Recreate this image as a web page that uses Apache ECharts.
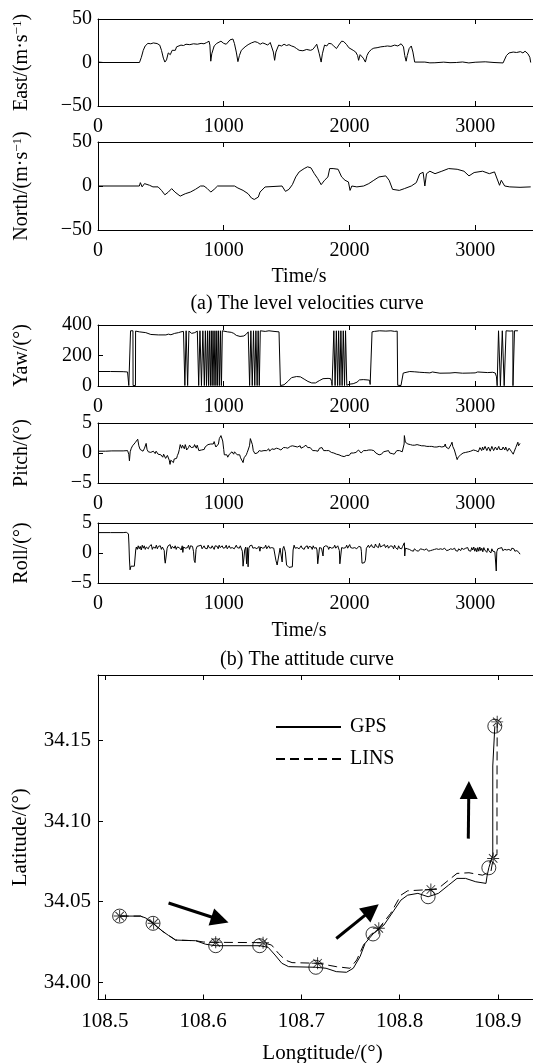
<!DOCTYPE html>
<html>
<head>
<meta charset="utf-8">
<script src="https://cdn.jsdelivr.net/npm/echarts@6.0.0/dist/echarts.min.js"></script>
<style>html,body{margin:0;padding:0;background:#fff}#c{width:533px;height:1063px}</style>
</head>
<body>
<div id="c"></div>
<script>
// ---------- data ----------
const timeTicks = [0, 1000, 2000, 3000];
const velTicks = [-50, 0, 50];
const yawTicks = [0, 200, 400];
const angTicks = [-5, 0, 5];
const lonTicks = [108.5, 108.6, 108.7, 108.8, 108.9];
const latTicks = [34.00, 34.05, 34.10, 34.15];

const eastData = [[0,0.5],[20,0.3],[40,0],[330,0],[345,6],[360,14],[375,19],[397,22],[420,21.5],[440,22.5],[470,21.8],[491,20],[505,14],[520,5],[532,0.5],[545,3],[559,11],[575,9],[590,14],[600,16],[615,14],[625,18],[640,17],[660,20],[680,19.5],[700,21],[730,20.5],[760,21.5],[790,21],[820,22],[843,21.5],[865,23],[883,24.5],[890,20],[897,1.5],[905,10],[924,19],[945,22],[960,24],[978,24.5],[1000,22],[1020,21],[1032,22.5],[1050,26],[1073,27],[1085,22],[1100,12],[1113,1],[1125,8],[1140,14],[1154,16],[1170,18],[1194,20.5],[1220,22.5],[1248,24],[1270,23],[1290,21],[1310,22.5],[1329,21.5],[1350,20],[1370,23],[1383,21],[1395,12],[1405,2.5],[1415,12],[1437,20],[1460,19],[1480,21],[1500,19.5],[1519,20.5],[1540,19],[1560,18],[1580,16],[1600,14],[1630,13.5],[1660,15],[1690,14],[1708,15],[1725,18],[1740,21],[1748,20],[1760,10],[1775,0.5],[1785,10],[1802,20],[1820,19],[1835,22],[1856,21.5],[1875,19],[1897,16],[1915,20],[1938,24.5],[1955,24],[1978,20.5],[1995,17],[2010,16],[2030,14],[2050,12],[2065,8],[2073,2.5],[2085,9],[2100,10.5],[2110,5],[2127,0.5],[2140,8],[2154,12],[2175,15],[2194,16.5],[2220,17],[2250,18],[2280,18.5],[2302,19],[2330,18.5],[2360,20],[2385,19],[2411,21.5],[2430,18],[2440,8],[2451,1.5],[2460,8],[2475,16],[2492,19],[2505,12],[2519,0.5],[2532,0],[2600,0.5],[2640,-0.4],[2680,-0.3],[2750,0.4],[2800,-0.2],[2850,0],[2900,0.6],[2950,-0.5],[3000,0.3],[3080,0.8],[3150,0],[3222,-0.5],[3235,1],[3249,8],[3270,11],[3303,12],[3330,11.5],[3360,12.5],[3380,11],[3397,13],[3420,10],[3435,6],[3442,0]];

const northData = [[0,0],[329,0],[337,3.8],[351,-1],[370,2.7],[410,0.8],[437,-1],[478,-1],[505,-5],[532,-10],[559,-7],[586,-3],[613,-7],[654,-11.5],[694,-8.8],[735,-6.9],[775,-3.8],[816,0],[843,0],[870,-3],[897,-6.9],[924,-3.8],[951,0],[1086,0],[1113,-2.3],[1154,-5],[1194,-8.8],[1221,-13.7],[1243,-15.3],[1275,-12.6],[1289,-6.9],[1302,-6.1],[1329,-1.1],[1343,0],[1464,0],[1491,-6.1],[1519,-3.8],[1546,1.5],[1573,10.3],[1600,16],[1640,19.8],[1667,21.8],[1694,20.6],[1721,14],[1748,8.4],[1775,1.5],[1802,6.5],[1829,10.3],[1843,19.8],[1870,19.8],[1910,19],[1938,10.3],[1965,6.5],[1992,4.6],[2005,-5],[2019,0],[2059,-1],[2113,0],[2154,2.7],[2194,6.5],[2235,10.3],[2289,11.5],[2316,6.5],[2343,-3.8],[2397,-5],[2437,-3],[2492,0],[2532,3.8],[2559,13.7],[2586,15.6],[2600,0],[2613,14],[2640,16.8],[2681,14],[2735,16.8],[2789,19.8],[2857,19],[2911,16.8],[2951,11.5],[2992,15.3],[3059,16.8],[3113,14],[3154,16],[3194,0.8],[3208,6.5],[3235,0],[3275,-1],[3357,-1.5],[3442,-1]];

const yawData = [[0,95],[100,95],[200,94],[235,92],[243,88],[245,3],[258,3],[259,362],[278,362],[279,3],[298,3],[299,360],[330,355],[380,350],[420,338],[480,335],[540,335],[560,340],[580,336],[610,345],[640,350],[660,355],[680,358],[690,362],[691,3],[700,3],[701,362],[712,362],[713,3],[722,3],[723,360],[745,345],[770,350],[790,360],[800,362],[801,3],[810,3],[811,362],[822,362],[823,3],[833,3],[834,362],[845,362],[846,3],[853,3],[854,362],[862,362],[863,3],[870,3],[871,362],[878,362],[879,3],[885,3],[886,362],[893,362],[894,3],[900,3],[901,362],[907,362],[908,3],[914,3],[915,362],[922,362],[923,3],[929,3],[930,362],[937,362],[938,3],[944,3],[945,362],[951,362],[952,3],[958,3],[959,362],[966,362],[967,3],[973,3],[974,362],[981,362],[982,3],[988,3],[989,362],[1000,358],[1030,355],[1060,352],[1080,345],[1100,332],[1130,325],[1160,328],[1180,340],[1195,355],[1205,362],[1206,3],[1215,3],[1216,362],[1226,362],[1227,3],[1236,3],[1237,362],[1246,362],[1247,3],[1255,3],[1256,362],[1265,362],[1266,3],[1273,3],[1274,362],[1282,362],[1283,3],[1290,3],[1291,362],[1300,360],[1330,358],[1360,362],[1400,358],[1440,355],[1450,360],[1451,3],[1480,8],[1510,30],[1540,55],[1580,62],[1610,60],[1640,45],[1670,30],[1700,20],[1730,20],[1760,35],[1790,48],[1830,50],[1850,48],[1858,30],[1862,3],[1875,3],[1876,362],[1885,362],[1886,3],[1895,3],[1896,362],[1905,362],[1906,3],[1913,3],[1914,362],[1923,362],[1924,3],[1931,3],[1932,362],[1941,362],[1942,3],[1950,3],[1951,362],[1960,362],[1961,3],[1968,3],[1969,362],[1978,362],[1979,5],[2000,12],[2030,15],[2060,25],[2080,40],[2110,42],[2140,40],[2160,38],[2165,10],[2175,5],[2180,355],[2200,358],[2240,362],[2290,360],[2330,362],[2360,358],[2380,360],[2384,5],[2410,3],[2420,15],[2428,85],[2440,92],[2480,95],[2520,93],[2560,90],[2600,88],[2640,86],[2660,92],[2670,86],[2720,84],[2800,85],[2840,88],[2850,83],[2900,84],[2960,85],[3000,86],[3020,92],[3030,86],[3100,88],[3140,90],[3160,85],[3170,60],[3175,2],[3185,2],[3186,362],[3200,362],[3201,2],[3215,2],[3216,362],[3230,362],[3231,2],[3245,2],[3246,362],[3280,360],[3300,362],[3301,2],[3312,2],[3313,362],[3340,362]];

const pitchData = [[0,0.3],[60,0.3],[110,0.35],[115,0.6],[120,0.3],[200,0.35],[235,0.4],[245,-0.2],[250,-1.3],[256,0.2],[265,0.8],[275,1.2],[285,0.9],[295,1.7],[305,1.5],[316,2.3],[325,1.2],[335,0.6],[345,0.9],[358,0.3],[370,0.8],[383,1.6],[390,0.6],[400,0.2],[410,0.5],[420,0.1],[430,0.4],[440,0.3],[448,0.0],[455,-0.1],[462,0.3],[470,0.2],[478,-0.2],[485,-0.4],[492,0.0],[500,-0.3],[508,-0.6],[515,-0.7],[522,-0.2],[530,-0.4],[538,-0.9],[545,-1.0],[552,-0.4],[560,-0.6],[567,-1.2],[573,-1.9],[579,-1.2],[585,-1.0],[592,-1.4],[600,-1.6],[606,-1.0],[612,-0.8],[618,-1.2],[625,-0.9],[632,-0.4],[640,0],[647,0.6],[654,1.4],[660,1.1],[665,0.8],[672,1.3],[680,1.0],[687,0.7],[694,1.4],[700,1.0],[705,0.5],[712,0.7],[720,0.9],[728,1.3],[735,1.4],[742,0.9],[748,0.6],[755,1.1],[762,1.0],[768,1.4],[775,1.1],[782,0.8],[789,1.3],[795,0.9],[802,0.4],[809,0.6],[816,0.1],[823,0.5],[830,0.7],[838,0.3],[845,0.6],[852,1.0],[860,1.2],[867,0.9],[875,1.4],[885,1.2],[897,1.5],[904,1.3],[910,1.8],[917,1.5],[924,1.9],[931,1.4],[938,1.0],[945,1.3],[951,0.9],[958,1.5],[965,2.4],[972,2.2],[978,2.9],[985,2.6],[992,2.0],[1000,0.6],[1005,-0.3],[1012,-0.1],[1018,-0.5],[1025,-0.3],[1032,-0.7],[1038,-0.4],[1045,-0.2],[1052,-0.5],[1059,-0.1],[1066,0.2],[1072,0.1],[1079,-0.2],[1086,0.2],[1093,-0.1],[1100,0.0],[1107,-0.3],[1113,-0.4],[1120,-0.1],[1127,-0.3],[1134,-0.8],[1140,-1.0],[1147,-0.6],[1154,-1.6],[1162,-0.8],[1170,-0.5],[1180,-0.3],[1187,0.1],[1194,0.5],[1200,0.3],[1205,1.2],[1212,2.4],[1221,2.6],[1228,1.4],[1235,0.4],[1242,0.1],[1248,-0.1],[1255,0.2],[1262,-0.2],[1268,0.0],[1275,0.1],[1282,0.4],[1290,0.2],[1298,0.3],[1305,0.1],[1312,0.5],[1320,0.4],[1328,0.6],[1335,0.2],[1342,0.4],[1350,0.5],[1358,0.7],[1365,0.3],[1374,0.6],[1383,0.7],[1392,0.5],[1400,0.6],[1410,0.9],[1420,0.8],[1428,0.6],[1437,0.7],[1446,0.9],[1455,0.5],[1465,0.7],[1475,0.9],[1483,0.6],[1491,0.9],[1500,1.0],[1510,0.8],[1520,0.9],[1530,1.1],[1538,0.9],[1546,1.2],[1553,1.0],[1560,1.3],[1567,1.1],[1573,1.4],[1580,1.2],[1586,1.0],[1593,1.3],[1600,1.1],[1608,1.2],[1615,0.8],[1621,1.0],[1627,0.8],[1634,1.0],[1640,1.2],[1647,1.0],[1654,1.3],[1661,1.1],[1668,0.9],[1675,1.1],[1681,0.8],[1688,0.9],[1695,0.6],[1701,0.7],[1708,0.4],[1715,0.5],[1722,0.2],[1728,0.4],[1735,0.1],[1742,0.2],[1750,0.3],[1756,0.6],[1762,0.8],[1768,0.5],[1775,0.7],[1782,0.9],[1789,0.6],[1795,0.4],[1802,0.5],[1809,0.7],[1816,0.4],[1823,0.3],[1830,0.6],[1836,0.4],[1843,0.3],[1850,0.5],[1856,0.1],[1863,0.3],[1870,0.2],[1876,0.0],[1883,-0.1],[1890,0.1],[1897,-0.2],[1903,-0.1],[1910,-0.4],[1917,-0.3],[1924,-0.6],[1931,-0.4],[1938,-0.5],[1945,-0.7],[1951,-0.8],[1958,-0.6],[1965,-0.5],[1972,-0.7],[1978,-0.4],[1985,-0.5],[1992,-0.2],[1998,-0.4],[2005,-0.1],[2012,0.0],[2020,0.1],[2026,-0.1],[2032,0.0],[2039,0.2],[2045,0.3],[2052,0.1],[2060,0.2],[2066,0.4],[2072,0.5],[2079,0.2],[2086,0.3],[2093,0.0],[2100,0.1],[2107,0.3],[2113,0.4],[2120,0.1],[2127,0.2],[2134,0.4],[2140,0.1],[2147,0.3],[2154,0.5],[2160,0.2],[2167,0.3],[2174,0.5],[2180,0.6],[2187,0.3],[2194,0.4],[2202,0.2],[2210,0.0],[2218,0.2],[2225,-0.1],[2236,-0.3],[2248,-0.5],[2255,-0.2],[2262,-0.1],[2271,0.2],[2280,0.1],[2291,0.3],[2302,0.2],[2311,0.4],[2320,0.0],[2330,0.2],[2340,-0.1],[2348,0.1],[2356,-0.2],[2363,0.0],[2370,0.1],[2377,0.4],[2384,0.3],[2391,0.6],[2398,0.4],[2405,0.2],[2411,0.5],[2420,0.2],[2428,-0.1],[2435,1.5],[2437,2.9],[2445,1.8],[2451,1.8],[2458,1.6],[2465,1.5],[2472,1.7],[2478,1.6],[2485,1.4],[2492,1.5],[2501,1.3],[2510,1.4],[2520,1.3],[2530,1.2],[2538,1.4],[2546,1.2],[2555,1.3],[2565,1.1],[2575,1.2],[2585,1.1],[2595,1.2],[2605,1.0],[2616,1.1],[2627,1.0],[2636,1.1],[2645,1.0],[2655,1.1],[2665,0.9],[2675,1.0],[2685,0.9],[2696,1.0],[2708,0.8],[2715,1.1],[2722,0.9],[2728,1.2],[2735,1.0],[2742,0.8],[2748,0.7],[2755,1.1],[2762,1.5],[2768,1.0],[2775,0.9],[2782,1.1],[2789,0.7],[2795,0.9],[2800,1.0],[2808,1.4],[2816,1.8],[2822,1.1],[2826,0.8],[2835,0.5],[2843,0.2],[2850,-0.6],[2857,-1.1],[2865,-0.7],[2870,-0.9],[2875,-0.5],[2880,-0.6],[2885,-0.3],[2891,-0.4],[2897,-0.2],[2904,0.0],[2910,0.0],[2918,0.2],[2925,0.1],[2932,0.3],[2940,0.0],[2946,0.2],[2951,0.1],[2958,0.4],[2965,0.3],[2971,0.1],[2978,0.2],[2985,0.5],[2992,0.4],[2998,0.2],[3005,0.4],[3011,0.7],[3018,0.6],[3025,0.2],[3032,0.3],[3038,0.9],[3045,0.8],[3052,0.4],[3059,1.0],[3066,0.5],[3072,0.7],[3079,1.1],[3086,0.9],[3093,0.4],[3100,0.6],[3106,1.0],[3113,0.8],[3120,0.3],[3127,0.5],[3133,1.1],[3140,0.9],[3147,0.4],[3154,0.7],[3161,1.0],[3168,1.2],[3174,0.5],[3180,0.8],[3188,1.1],[3195,0.6],[3202,0.3],[3210,0.9],[3216,0.6],[3222,1.0],[3229,0.7],[3236,0.5],[3243,1.0],[3250,0.8],[3257,0.3],[3264,0.4],[3270,0.8],[3275,0.5],[3283,0.7],[3290,0.2],[3296,0.4],[3303,-0.2],[3310,0.2],[3316,0.5],[3323,0.9],[3330,1.2],[3335,0.7],[3340,1.8],[3345,1.2],[3350,1.4],[3357,1.6]];

const rollData = [[0,3.4],[100,3.4],[200,3.4],[225,3.45],[235,3.7],[242,3.2],[246,1.5],[250,-1.0],[255,-2.8],[262,-2.2],[275,-2.4],[289,-2.2],[296,-2.0],[300,0.5],[305,1.0],[312,0.6],[320,1.2],[328,0.7],[336,1.1],[344,0.5],[352,1.3],[360,0.8],[368,1.2],[376,0.6],[384,1.0],[392,1.3],[400,0.7],[408,1.1],[416,0.9],[424,1.4],[432,0.6],[440,1.0],[448,1.2],[456,0.8],[464,1.3],[472,0.7],[480,1.1],[488,0.9],[496,1.2],[504,0.6],[512,1.0],[520,1.1],[527,0.4],[530,-1.0],[535,-1.7],[545,-1.6],[550,0.8],[558,1.2],[566,0.9],[574,1.4],[582,0.7],[590,1.1],[598,1.3],[606,0.8],[614,1.2],[622,0.6],[630,1.0],[638,1.3],[646,0.9],[654,1.1],[662,0.5],[670,1.2],[675,0.1],[680,1.0],[688,1.3],[696,0.8],[704,1.1],[712,0.9],[720,1.3],[728,0.6],[736,1.2],[744,0.9],[752,1.1],[760,0.2],[765,-1.2],[772,-1.6],[780,0.6],[788,1.1],[796,0.8],[804,1.2],[812,0.9],[820,1.3],[828,0.7],[836,1.0],[844,1.2],[852,0.8],[860,1.1],[868,0.7],[876,1.3],[884,0.9],[892,1.1],[900,0.8],[908,1.2],[916,1.0],[924,0.6],[932,1.2],[940,0.9],[948,1.1],[956,0.7],[964,1.3],[972,0.9],[980,1.0],[988,1.2],[996,0.8],[1004,1.1],[1012,0.9],[1020,1.3],[1028,0.7],[1036,1.0],[1044,1.2],[1052,0.8],[1060,1.1],[1068,0.9],[1076,1.2],[1084,0.7],[1092,1.0],[1100,1.3],[1108,0.9],[1116,1.1],[1124,0.8],[1132,1.2],[1140,1.0],[1148,0.3],[1154,-2.2],[1160,-2.5],[1167,0.5],[1175,1.0],[1182,-1.8],[1188,0.9],[1194,-2.3],[1200,0.8],[1208,1.2],[1216,0.9],[1224,1.3],[1232,0.8],[1240,1.1],[1248,0.9],[1256,1.2],[1264,0.7],[1272,1.0],[1280,1.1],[1288,0.3],[1294,1.0],[1302,1.2],[1310,0.8],[1318,1.1],[1326,0.9],[1334,1.3],[1342,0.7],[1350,1.0],[1358,1.2],[1366,0.8],[1374,1.1],[1382,0.9],[1390,1.2],[1398,0.8],[1405,0.6],[1415,-1.2],[1425,-2.0],[1440,-2.2],[1448,0.8],[1455,1.1],[1460,0.7],[1465,-1.5],[1470,0.7],[1478,1.1],[1485,0.8],[1490,0.2],[1500,-2.0],[1519,-2.4],[1530,-2.3],[1546,-2.3],[1552,0.5],[1560,1.3],[1568,0.8],[1576,1.1],[1584,0.9],[1592,1.2],[1600,0.7],[1608,1.0],[1616,1.2],[1624,0.8],[1632,1.1],[1640,0.6],[1648,1.0],[1656,0.9],[1664,1.2],[1672,0.7],[1680,1.1],[1688,0.9],[1696,1.0],[1704,0.6],[1712,1.2],[1720,0.8],[1728,1.0],[1736,0.9],[1742,0.5],[1748,-1.8],[1755,-2.0],[1762,0.9],[1770,1.1],[1778,0.8],[1786,1.0],[1790,-0.5],[1795,1.0],[1803,0.7],[1811,1.2],[1819,0.9],[1827,1.1],[1835,0.6],[1843,1.0],[1851,1.2],[1859,0.8],[1867,1.1],[1875,0.9],[1883,1.3],[1891,0.8],[1899,1.0],[1907,1.2],[1915,0.9],[1920,0.4],[1924,-1.8],[1930,-2.0],[1938,0.9],[1946,1.2],[1954,0.8],[1962,1.1],[1970,0.9],[1978,1.3],[1986,0.8],[1994,1.0],[2002,1.4],[2010,0.9],[2018,1.2],[2026,0.8],[2034,1.1],[2042,0.9],[2050,1.2],[2058,0.7],[2066,1.0],[2074,1.1],[2082,0.8],[2090,1.0],[2095,0.3],[2100,-1.7],[2110,-1.8],[2120,-1.6],[2127,-1.2],[2135,0.8],[2143,1.1],[2151,1.3],[2159,0.9],[2167,1.2],[2175,1.4],[2183,1.0],[2191,1.3],[2199,0.9],[2207,1.5],[2215,1.1],[2223,1.2],[2231,0.9],[2239,1.6],[2247,1.0],[2255,0.8],[2263,1.2],[2271,1.0],[2279,1.4],[2287,0.9],[2295,1.1],[2303,1.3],[2311,0.8],[2319,1.0],[2327,1.2],[2335,0.9],[2343,1.1],[2351,0.7],[2359,1.3],[2367,0.9],[2375,1.0],[2383,0.6],[2391,1.2],[2399,0.8],[2407,1.0],[2415,0.7],[2423,1.1],[2431,0.9],[2437,1.7],[2440,-0.5],[2445,0.8],[2453,0.5],[2461,0.7],[2469,0.4],[2477,0.6],[2485,0.8],[2493,0.4],[2501,0.6],[2509,0.3],[2517,0.7],[2525,0.5],[2533,0.4],[2541,0.6],[2549,0.3],[2557,0.5],[2565,0.7],[2573,0.4],[2581,0.6],[2589,0.3],[2597,0.5],[2605,0.4],[2613,0.7],[2621,0.5],[2629,0.3],[2637,0.6],[2645,0.4],[2653,0.7],[2661,0.5],[2669,0.3],[2677,0.6],[2685,0.5],[2693,0.7],[2701,0.4],[2709,0.6],[2717,0.3],[2725,0.7],[2733,0.5],[2741,0.6],[2749,0.3],[2757,0.8],[2765,0.5],[2773,0.4],[2781,0.7],[2789,0.5],[2797,0.3],[2805,0.7],[2813,0.4],[2821,0.6],[2829,0.5],[2837,0.8],[2845,0.4],[2853,0.6],[2861,0.3],[2869,0.7],[2877,0.5],[2885,0.4],[2893,0.8],[2901,0.5],[2909,0.6],[2917,0.3],[2925,0.8],[2933,0.5],[2941,0.9],[2949,0.4],[2957,0.6],[2965,0.3],[2973,0.9],[2981,0.5],[2989,1.0],[2997,0.3],[3005,0.8],[3013,0.2],[3021,0.9],[3029,0.3],[3037,1.0],[3045,0.4],[3053,0.8],[3061,0.2],[3069,0.9],[3077,0.5],[3085,0.7],[3093,0.1],[3101,0.8],[3109,0.4],[3117,0.6],[3125,0.0],[3133,0.7],[3141,0.3],[3149,0.6],[3157,0.2],[3163,0.4],[3168,-3.0],[3172,0.2],[3180,0.7],[3188,0.4],[3196,0.8],[3204,0.5],[3212,0.9],[3220,0.4],[3228,0.7],[3236,0.6],[3244,0.9],[3252,0.5],[3260,0.8],[3268,0.6],[3276,0.9],[3284,0.4],[3292,0.8],[3300,0.5],[3308,0.7],[3316,0.3],[3324,0.6],[3332,0.4],[3340,0.5],[3348,0.1],[3357,-0.2]];

const gpsTrack = [[108.5150,34.0411],[108.5364,34.0411],[108.5420,34.0398],[108.5490,34.0366],[108.5584,34.0318],[108.5650,34.0290],[108.5720,34.0262],[108.5925,34.0258],[108.6026,34.0236],[108.6128,34.0227],[108.6576,34.0227],[108.6662,34.0217],[108.6732,34.0169],[108.6801,34.0118],[108.6870,34.0097],[108.7147,34.0093],[108.7251,34.0087],[108.7355,34.0066],[108.7459,34.0062],[108.7528,34.0087],[108.7597,34.0159],[108.7649,34.0242],[108.7729,34.0300],[108.7840,34.0355],[108.7944,34.0448],[108.8013,34.0510],[108.8082,34.0541],[108.8186,34.0552],[108.8290,34.0531],[108.8394,34.0552],[108.8498,34.0603],[108.8584,34.0645],[108.8671,34.0645],[108.8775,34.0624],[108.8879,34.0614],[108.8890,34.0660],[108.8908,34.0711],[108.8948,34.0790],[108.8948,34.1343],[108.8969,34.1590]];
const linsTrack = [[108.5150,34.0411],[108.5364,34.0411],[108.5496,34.0366],[108.5584,34.0318],[108.5720,34.0262],[108.5925,34.0258],[108.6000,34.0250],[108.6128,34.0248],[108.6610,34.0246],[108.6697,34.0231],[108.6766,34.0180],[108.6836,34.0138],[108.6905,34.0122],[108.7165,34.0118],[108.7355,34.0097],[108.7494,34.0087],[108.7563,34.0138],[108.7632,34.0231],[108.7700,34.0292],[108.7788,34.0335],[108.7909,34.0428],[108.8013,34.0541],[108.8082,34.0568],[108.8318,34.0576],[108.8394,34.0583],[108.8498,34.0634],[108.8584,34.0676],[108.8706,34.0680],[108.8844,34.0665],[108.8930,34.0690],[108.8952,34.0769],[108.8991,34.0800],[108.8991,34.1200],[108.8993,34.1617]];
const gpsMarks = [[108.5150,34.0411],[108.5490,34.0366],[108.6128,34.0227],[108.6576,34.0227],[108.7147,34.0093],[108.7729,34.0300],[108.8290,34.0531],[108.8908,34.0711],[108.8969,34.1590]];
const linsMarks = [[108.5150,34.0411],[108.5496,34.0366],[108.6128,34.0248],[108.6610,34.0246],[108.7165,34.0118],[108.7788,34.0335],[108.8318,34.0576],[108.8952,34.0769],[108.8993,34.1617]];
const arrows = [[[108.5648,34.0492],[108.6171,34.0388]],[[108.7355,34.0272],[108.7716,34.0450]],[[108.8699,34.0892],[108.8704,34.1194]]];

// ---------- styling / layout ----------
const SERIF = 'Liberation Serif';
const FS = 20;
const minus = v => String(v).replace('-', '\u2212');
const nameRich = {
  t: {fontFamily: SERIF, fontSize: FS, color: '#000'},
  s: {fontFamily: SERIF, fontSize: 13, color: '#000', verticalAlign: 'top', padding: [0, 0, 8, 0]}
};
const panels = [
  {top: 19, h: 87, data: eastData, min: -50, max: 50, interval: 50, ticks: velTicks, name: '{t|East/(m\u00b7s}{s|\u22121}{t|)}'},
  {top: 142, h: 88, data: northData, min: -50, max: 50, interval: 50, ticks: velTicks, name: '{t|North/(m\u00b7s}{s|\u22121}{t|)}'},
  {top: 325, h: 61, data: yawData, min: 0, max: 400, interval: 200, ticks: yawTicks, name: '{t|Yaw/(\u00b0)}'},
  {top: 423, h: 60, data: pitchData, min: -5, max: 5, interval: 5, ticks: angTicks, name: '{t|Pitch/(\u00b0)}'},
  {top: 523, h: 60, data: rollData, min: -5, max: 5, interval: 5, ticks: angTicks, name: '{t|Roll/(\u00b0)}'}
];

const axisLine = {show: true, onZero: false, lineStyle: {color: '#000', width: 1}};
const labelStyle = {fontFamily: SERIF, fontSize: FS, color: '#000'};

const grids = [], xAxes = [], yAxes = [], series = [];
panels.forEach((p, i) => {
  grids.push({left: 98, right: -5, top: p.top, height: p.h, outerBoundsMode: 'none', containLabel: false});
  const xBase = {type: 'value', gridIndex: i, min: 0, max: 3500, splitLine: {show: false}, axisLine: axisLine};
  xAxes.push(Object.assign({}, xBase, {position: 'bottom',
    axisTick: {show: true, inside: true, length: 5, customValues: timeTicks, lineStyle: {color: '#000'}},
    axisLabel: Object.assign({customValues: timeTicks, margin: 11, formatter: v => String(v)}, labelStyle)}));
  xAxes.push(Object.assign({}, xBase, {position: 'top',
    axisTick: {show: true, inside: true, length: 5, customValues: timeTicks, lineStyle: {color: '#000'}},
    axisLabel: {show: false}}));
  yAxes.push({type: 'value', gridIndex: i, min: p.min, max: p.max, interval: p.interval,
    splitLine: {show: false}, axisLine: axisLine,
    axisTick: {show: true, inside: true, length: 5, lineStyle: {color: '#000'}},
    axisLabel: Object.assign({margin: 6, formatter: minus, customValues: p.ticks}, labelStyle),
    name: p.name, nameLocation: 'middle', nameRotate: 90, nameGap: 66,
    nameTextStyle: {rich: nameRich, fontFamily: SERIF, fontSize: FS, color: '#000'}});
  series.push({type: 'line', xAxisIndex: 2 * i, yAxisIndex: i, data: p.data, showSymbol: false, symbol: 'none',
    lineStyle: {color: '#000', width: 1}, silent: true});
});

// bottom trajectory panel
grids.push({left: 98, right: -14, top: 675, bottom: 63.5, outerBoundsMode: 'none', containLabel: false});
const lonBase = {type: 'value', gridIndex: 5, min: 108.493, max: 108.95, splitLine: {show: false}, axisLine: axisLine};
xAxes.push(Object.assign({}, lonBase, {position: 'bottom',
  axisTick: {show: true, inside: true, length: 5, customValues: lonTicks, lineStyle: {color: '#000'}},
  axisLabel: Object.assign({customValues: lonTicks, margin: 11, formatter: v => v.toFixed(1)}, labelStyle, {fontSize: 21}),
  name: 'Longtitude/(\u00b0)', nameLocation: 'middle', nameGap: 43,
  nameTextStyle: {fontFamily: SERIF, fontSize: 21, color: '#000'}}));
xAxes.push(Object.assign({}, lonBase, {position: 'top',
  axisTick: {show: true, inside: true, length: 5, customValues: lonTicks, lineStyle: {color: '#000'}},
  axisLabel: {show: false}}));
yAxes.push({type: 'value', gridIndex: 5, min: 33.9893, max: 34.1908, splitLine: {show: false}, axisLine: axisLine,
  axisTick: {show: true, inside: true, length: 5, customValues: latTicks, lineStyle: {color: '#000'}},
  axisLabel: Object.assign({customValues: latTicks, margin: 7, formatter: v => v.toFixed(2)}, labelStyle, {fontSize: 21}),
  name: 'Latitude/(\u00b0)', nameLocation: 'middle', nameRotate: 90, nameGap: 67,
  nameTextStyle: {fontFamily: SERIF, fontSize: 21, color: '#000'}});

const starPath = 'path://M-0.8,-10L0.8,-10L0.8,10L-0.8,10Z M-10,-0.8L10,-0.8L10,0.8L-10,0.8Z M-7.6,-6.5L-6.5,-7.6L7.6,6.5L6.5,7.6Z M-7.6,6.5L-6.5,7.6L7.6,-6.5L6.5,-7.6Z';

series.push({name: 'GPS', type: 'line', xAxisIndex: 10, yAxisIndex: 5, data: gpsTrack, showSymbol: false, symbol: 'none',
  lineStyle: {color: '#000', width: 1}, itemStyle: {color: '#000'}, silent: true,
  markLine: {silent: true, symbol: ['none', 'triangle'], symbolSize: 18, label: {show: false},
    lineStyle: {color: '#000', width: 3, type: 'solid', opacity: 1}, itemStyle: {color: '#000'}, emphasis: {disabled: true},
    data: arrows.map(a => [{coord: a[0]}, {coord: a[1]}])}});
series.push({name: 'LINS', type: 'line', xAxisIndex: 10, yAxisIndex: 5, data: linsTrack, showSymbol: false, symbol: 'none',
  lineStyle: {color: '#000', width: 1, type: [9, 5]}, itemStyle: {color: '#000'}, silent: true});
series.push({name: 'GPS marks', type: 'scatter', xAxisIndex: 10, yAxisIndex: 5, data: gpsMarks, symbol: 'circle', symbolSize: 14,
  itemStyle: {color: 'rgba(0,0,0,0)', borderColor: '#000', borderWidth: 1}, silent: true});
series.push({name: 'LINS marks', type: 'scatter', xAxisIndex: 10, yAxisIndex: 5, data: linsMarks, symbol: starPath, symbolSize: 12,
  itemStyle: {color: '#000'}, silent: true});

const txt = (x, y, t) => ({type: 'text', x: x, y: y, silent: true,
  style: {text: t, fontFamily: SERIF, fontSize: FS, fill: '#000', align: 'center', verticalAlign: 'middle'}});

const option = {
  animation: false,
  backgroundColor: '#fff',
  grid: grids, xAxis: xAxes, yAxis: yAxes, series: series,
  legend: {data: ['GPS', 'LINS'], orient: 'vertical', left: 270, top: 712, itemWidth: 65, itemHeight: 20, itemGap: 12,
    selectedMode: false, itemStyle: {opacity: 0},
    textStyle: {fontFamily: SERIF, fontSize: 20, color: '#000', padding: [0, 0, 0, 4]}},
  graphic: [txt(299, 277, 'Time/s'), txt(307, 304, '(a) The level velocities curve'),
            txt(299, 631, 'Time/s'), txt(307, 660, '(b) The attitude curve')]
};
const chart = echarts.init(document.getElementById('c'), null, {renderer: 'canvas'});
chart.setOption(option);
</script>
</body>
</html>
